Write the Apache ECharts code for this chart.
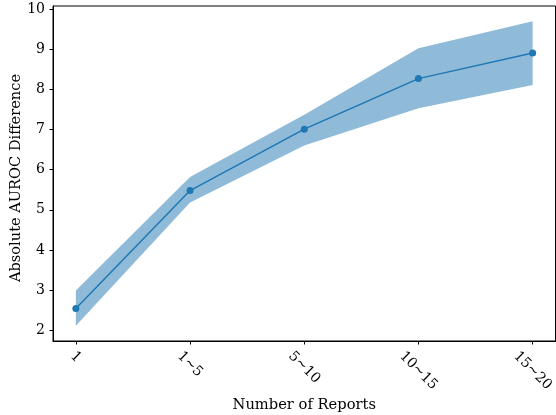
<!DOCTYPE html>
<html>
<head>
<meta charset="utf-8">
<script src="https://cdn.jsdelivr.net/npm/echarts@6/dist/echarts.min.js"></script>
<style>html,body{margin:0;padding:0;background:#fff}#c{width:556px;height:415px}</style>
</head>
<body>
<div id="c"></div>
<script>
var categories = ['1', '1~5', '5~10', '10~15', '15~20'];
var meanValues = [2.54, 5.48, 7.01, 8.27, 8.91];
var lowerValues = [2.11, 5.18, 6.60, 7.53, 8.11];
var upperValues = [2.99, 5.82, 7.37, 9.03, 9.70];
var yTicks = [2, 3, 4, 5, 6, 7, 8, 9, 10];
var xTicks = [0, 1, 2, 3, 4];

var FONT = 'DejaVu Serif';
var TICK_FS = 14;
var blue = '#1f77b4';
var bandColor = '#8fbbd9';

// per-label padding so that each rotated label's bounding box top sits at the same height
var cnv = document.createElement('canvas').getContext('2d');
cnv.font = TICK_FS + 'px "' + FONT + '"';
var rich = {};
categories.forEach(function (c, i) {
  var w = cnv.measureText(c).width;
  var p = (w + TICK_FS) / 2;
  rich['l' + i] = { fontFamily: FONT, fontSize: TICK_FS, color: '#000', padding: [p, 0, 0, p] };
});

var bandData = lowerValues.map(function (v, i) { return [i, v, upperValues[i]]; });
var meanData = meanValues.map(function (v, i) { return [i, v]; });

var chart = echarts.init(document.getElementById('c'), null, { renderer: 'canvas' });
chart.setOption({
  animation: false,
  backgroundColor: '#fff',
  grid: { left: 53, right: 0.5, top: 6, bottom: 74, containLabel: false, outerBoundsMode: 'none',
          show: true, borderColor: '#000', borderWidth: 1, backgroundColor: 'transparent' },
  xAxis: {
    type: 'value', min: -0.2, max: 4.2,
    name: 'Number of Reports', nameLocation: 'middle', nameGap: 57, nameMoveOverlap: false,
    nameTextStyle: { fontFamily: FONT, fontSize: 14.7, color: '#000' },
    axisLine: { show: true, onZero: false, lineStyle: { color: '#000', width: 1 } },
    axisTick: { show: true, length: 3.5, lineStyle: { color: '#000' }, customValues: xTicks },
    splitLine: { show: false },
    axisLabel: {
      customValues: xTicks,
      formatter: function (v) { var i = Math.round(v); return '{l' + i + '|' + categories[i] + '}'; },
      rich: rich,
      rotate: -45, fontFamily: FONT, fontSize: TICK_FS, color: '#000',
      align: 'center', verticalAlign: 'middle', margin: 8
    }
  },
  yAxis: {
    type: 'value', min: 1.73, max: 10.08,
    name: 'Absolute AUROC Difference', nameLocation: 'middle', nameGap: 29, nameMoveOverlap: false,
    nameTextStyle: { fontFamily: FONT, fontSize: 14.6, color: '#000', padding: [0, 9, 0, 0] },
    axisLine: { show: true, onZero: false, lineStyle: { color: '#000', width: 1 } },
    axisTick: { show: true, length: 3.5, lineStyle: { color: '#000' }, customValues: yTicks },
    splitLine: { show: false },
    axisLabel: {
      customValues: yTicks,
      fontFamily: FONT, fontSize: TICK_FS, color: '#000', margin: 8
    }
  },
  series: [
    {
      type: 'custom', silent: true, z: 1,
      data: bandData,
      encode: { x: 0, y: [1, 2] },
      renderItem: function (params, api) {
        if (params.dataIndex !== 0) return null;
        var pts = [];
        for (var i = 0; i < bandData.length; i++) pts.push(api.coord([bandData[i][0], bandData[i][1]]));
        for (var j = bandData.length - 1; j >= 0; j--) pts.push(api.coord([bandData[j][0], bandData[j][2]]));
        return { type: 'polygon', shape: { points: pts }, style: { fill: bandColor, stroke: null } };
      }
    },
    { type: 'line', data: meanData, symbol: 'circle', symbolSize: 7,
      itemStyle: { color: blue }, lineStyle: { color: blue, width: 1.5 }, z: 5 }
  ]
});
</script>
</body>
</html>
